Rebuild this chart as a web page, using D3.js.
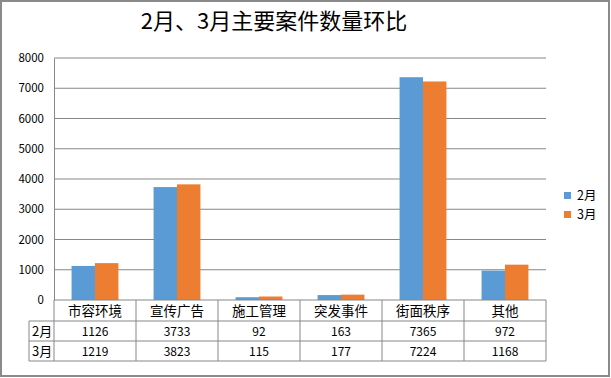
<!DOCTYPE html>
<html><head><meta charset="utf-8">
<script src="https://cdn.jsdelivr.net/npm/d3@7"></script>
<style>body{margin:0;background:#fff}svg{display:block}text{font-family:"Noto Sans CJK SC","Liberation Sans",sans-serif}</style>
</head><body>
<script>
const categories = ["市容环境","宣传广告","施工管理","突发事件","街面秩序","其他"];
const seriesNames = ["2月","3月"];
const feb = [1126,3733,92,163,7365,972];
const mar = [1219,3823,115,177,7224,1168];
const yTicks = [0,1000,2000,3000,4000,5000,6000,7000,8000];
const colors = ["#5B9BD5","#ED7D31"];
const title = "2月、3月主要案件数量环比";

const W=611,H=378;
const svg=d3.select("body").append("svg").attr("width",W).attr("height",H);
svg.append("rect").attr("x",1).attr("y",1).attr("width",608).attr("height",375)
  .attr("fill","#fff").attr("stroke","#8a8a8a").attr("stroke-width",2);

const L=54,R=546,T=58,B=300;
const x=d3.scaleBand().domain(categories).range([L,R]);
const y=d3.scaleLinear().domain([0,8000]).range([B,T]);
const xs=d3.scaleBand().domain(seriesNames).range([0,x.bandwidth()]).paddingOuter(0.75);

svg.append("text").attr("x",274).attr("y",29).attr("text-anchor","middle")
  .attr("font-size",22).attr("fill","#000").text(title);

// grid
const g=svg.append("g");
g.selectAll("line.grid").data(yTicks.filter(d=>d>0)).join("line")
  .attr("x1",L).attr("x2",R).attr("y1",d=>y(d)).attr("y2",d=>y(d))
  .attr("stroke","#878787").attr("stroke-width",1);
// y axis
const ya=svg.append("g").attr("transform",`translate(${L},0)`)
  .call(d3.axisLeft(y).tickValues(yTicks).tickFormat(d3.format("d")).tickSize(0).tickPadding(10));
ya.select(".domain").attr("stroke","#878787");
ya.selectAll("text").attr("font-size",11.5).attr("fill","#000")
  .attr("font-family","'Liberation Sans',Arial,sans-serif");

// bars
const series=[feb,mar];
series.forEach((vals,si)=>{
  svg.append("g").selectAll("rect").data(vals).join("rect")
    .attr("x",(d,i)=>x(categories[i])+xs(seriesNames[si]))
    .attr("width",xs.bandwidth())
    .attr("y",d=>y(d)).attr("height",d=>y(0)-y(d))
    .attr("fill",colors[si]);
});

// data table
const rowY=[300,321,341,361];
const tl=29;
const lc="#878787";
const tg=svg.append("g");
tg.append("line").attr("x1",L).attr("x2",R).attr("y1",B).attr("y2",B).attr("stroke",lc);
[321,341,361].forEach(yy=>tg.append("line").attr("x1",tl).attr("x2",R).attr("y1",yy).attr("y2",yy).attr("stroke",lc));
tg.append("line").attr("x1",tl).attr("x2",tl).attr("y1",321).attr("y2",361).attr("stroke",lc);
const colEdges=categories.map(c=>x(c)).concat([R]);
colEdges.forEach(xx=>tg.append("line").attr("x1",xx).attr("x2",xx).attr("y1",B).attr("y2",361).attr("stroke",lc));
tg.selectAll("text.cat").data(categories).join("text")
  .attr("x",d=>x(d)+x.bandwidth()/2).attr("y",315.5).attr("text-anchor","middle")
  .attr("font-size",13.5).attr("fill","#000").text(d=>d);
series.forEach((vals,si)=>{
  tg.append("text").attr("x",32).attr("y",rowY[si+1]+15).attr("font-size",13).attr("fill","#000").text(seriesNames[si]);
  tg.selectAll(null).data(vals).join("text")
    .attr("x",(d,i)=>x(categories[i])+x.bandwidth()/2).attr("y",rowY[si+1]+15)
    .attr("text-anchor","middle").attr("font-size",12).attr("fill","#000")
    .attr("font-family","'Liberation Sans',Arial,sans-serif").text(d=>d);
});

// legend
const lg=svg.append("g");
seriesNames.forEach((s,i)=>{
  lg.append("rect").attr("x",564).attr("y",192+19*i).attr("width",7).attr("height",7).attr("fill",colors[i]);
  lg.append("text").attr("x",577).attr("y",200+19*i).attr("font-size",12.5).attr("fill","#000").text(s);
});
</script>
</body></html>
